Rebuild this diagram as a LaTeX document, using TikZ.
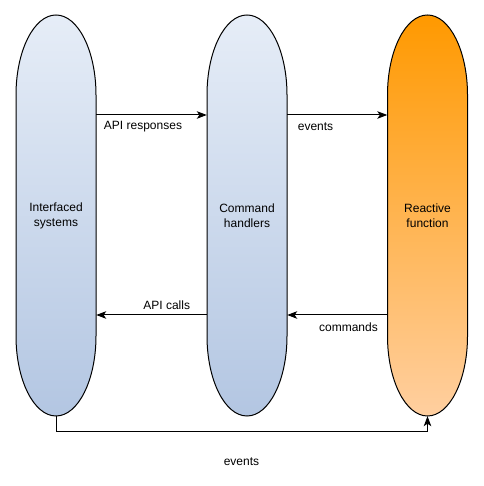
\documentclass[tikz,border=0pt]{standalone}
\usepackage{fontspec}
\setmainfont{Liberation Sans}
\usetikzlibrary{arrows.meta}
\definecolor{bluetop}{HTML}{E6EDF7}
\definecolor{bluebot}{HTML}{B3C6E2}
\definecolor{orgtop}{HTML}{FF9900}
\definecolor{orgbot}{HTML}{FFCFA0}
\newcommand\capsulepath[1]{({#1-40},391) -- ({#1-40},150) arc[start angle=180,end angle=360,x radius=40,y radius=80] -- ({#1+40},391) arc[start angle=0,end angle=180,x radius=40,y radius=80] -- cycle}
\tikzset{
  shapebox/.style={minimum width=80pt,minimum height=401pt,inner sep=0pt,align=center,font=\fontsize{12}{15}\selectfont},
  lbl/.style={font=\fontsize{12}{14}\selectfont,inner sep=0pt},
  arr/.style={draw,line width=1pt,-{Stealth[length=10pt,width=7.5pt,inset=2.5pt]}},
  outl/.style={draw,line width=1pt}
}
\begin{document}
\begin{tikzpicture}[x=1pt,y=1pt]
\useasboundingbox (0,0) rectangle (483,486);
\path[outl,top color=bluetop,bottom color=bluebot] \capsulepath{56};
\path[outl,top color=bluetop,bottom color=bluebot] \capsulepath{247};
\path[outl,top color=orgtop,bottom color=orgbot] \capsulepath{427.5};
\node[shapebox] (IS) at (56,270.5) {Interfaced\\systems};
\node[shapebox] (CH) at (247,270.5) {Command\\handlers};
\node[shapebox] (RF) at (427.5,270.5) {Reactive\\function};
\draw[arr] ([yshift=100.5pt]IS.east) -- ([yshift=100.5pt]CH.west);
\draw[arr] ([yshift=100.5pt]CH.east) -- ([yshift=100.5pt]RF.west);
\draw[arr] ([yshift=-99.5pt]CH.west) -- ([yshift=-99.5pt]IS.east);
\draw[arr] ([yshift=-99.5pt]RF.west) -- ([yshift=-99.5pt]CH.east);
\draw[arr] (IS.south) -- ++(0,-15.5) -| (RF.south);
\node[lbl] (l1) at (143,359) {API responses};
\node[lbl] (l2) at (315.5,359) {events};
\node[lbl] (l3) at (166.7,181) {API calls};
\node[lbl] (l4) at (348.5,159) {commands};
\node[lbl] (l5) at (241.5,24.3) {events};
\end{tikzpicture}
\end{document}
